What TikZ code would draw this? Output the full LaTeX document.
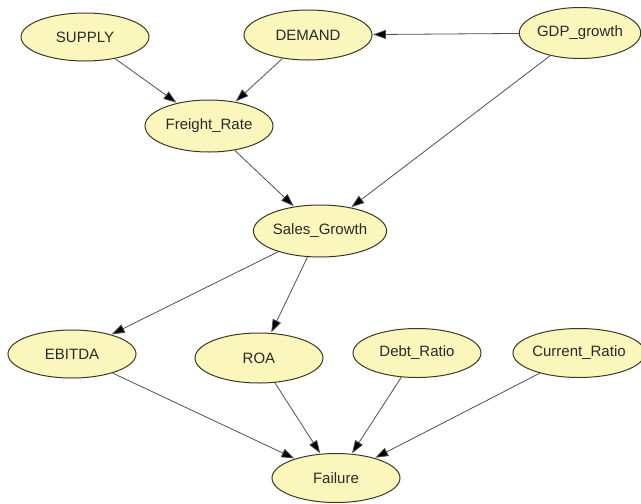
\documentclass[tikz,border=0pt]{standalone}
\usepackage{fontspec}
\setmainfont{Liberation Sans}
\usetikzlibrary{shapes.geometric,arrows.meta}
\definecolor{nodefill}{HTML}{FAF6BC}
\definecolor{nodeline}{HTML}{3A3A24}
\definecolor{edgeline}{HTML}{505050}
\definecolor{labeltext}{HTML}{2A2A2A}
\tikzset{
  var/.style={ellipse, draw=nodeline, line width=1pt, fill=nodefill,
    minimum width=128pt, minimum height=48pt, inner sep=0pt,
    font=\fontsize{15}{17}\selectfont, text=labeltext},
  link/.style={draw=edgeline, line width=0.8pt,
    -{Triangle[length=13pt,width=9pt,fill=black]}, shorten >=0.5pt}
}
\begin{document}
\begin{tikzpicture}[x=1pt,y=1pt]
\useasboundingbox (0,0) rectangle (641,-504);
\node[var] (supply) at (85,-37) {SUPPLY};
\node[var, minimum height=50pt] (demand) at (308,-35) {DEMAND};
\node[var, minimum width=120pt, minimum height=51pt] (gdp) at (580,-33) {GDP\_growth};
\node[var, minimum height=52pt] (freight) at (209,-126) {Freight\_Rate};
\node[var, minimum height=52pt] (sales) at (320,-231) {Sales\_Growth};
\node[var] (ebitda) at (72,-354) {EBITDA};
\node[var, minimum height=50pt] (roa) at (259,-358) {ROA};
\node[var, minimum height=49pt] (debt) at (417,-353) {Debt\_Ratio};
\node[var, minimum width=122pt, minimum height=49pt] (current) at (579,-353) {Current\_Ratio};
\node[var, minimum height=49pt] (failure) at (336,-478) {Failure};
\draw[link] (supply) -- (freight);
\draw[link] (demand) -- (freight);
\draw[link] (gdp) -- (demand);
\draw[link] (gdp) -- (sales);
\draw[link] (freight) -- (sales);
\draw[link] (sales) -- (ebitda);
\draw[link] (sales) -- (roa);
\draw[link] (ebitda) -- (failure);
\draw[link] (roa) -- (failure);
\draw[link] (debt) -- (failure);
\draw[link] (current) -- (failure);
\end{tikzpicture}
\end{document}
